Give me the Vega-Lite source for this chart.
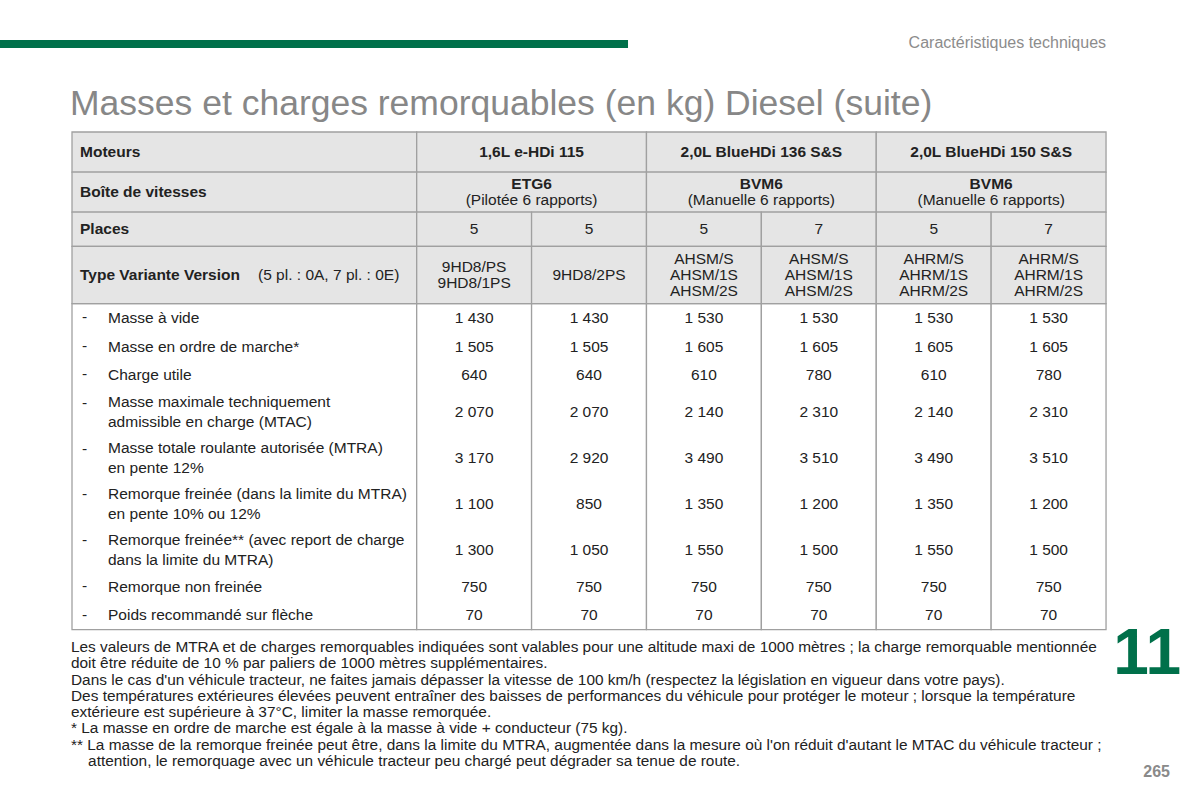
{
  "$schema": "https://vega.github.io/schema/vega-lite/v6.json",
  "width": 1200,
  "height": 800,
  "padding": 0,
  "autosize": {"type": "fit", "contains": "padding"},
  "background": "white",
  "config": {
    "view": {"stroke": null},
    "font": "Liberation Sans",
    "locale": {"number": {"decimal": ",", "thousands": " ", "grouping": [3], "currency": ["", " €"]}}
  },
  "datasets": {
    "hcells": [
      {"id": "a0", "c0": 0, "c1": 3, "r0": 0, "r1": 1.4, "label": "Moteurs"},
      {"id": "a1", "c0": 3, "c1": 5, "r0": 0, "r1": 1.4, "engine": "1,6L e-HDi 115"},
      {"id": "a2", "c0": 5, "c1": 7, "r0": 0, "r1": 1.4, "engine": "2,0L BlueHDi 136 S&S"},
      {"id": "a3", "c0": 7, "c1": 9, "r0": 0, "r1": 1.4, "engine": "2,0L BlueHDi 150 S&S"},
      {"id": "b0", "c0": 0, "c1": 3, "r0": 1.4, "r1": 2.8, "label": "Boîte de vitesses"},
      {"id": "b1", "c0": 3, "c1": 5, "r0": 1.4, "r1": 2.8, "gear": "ETG6", "gearType": "(Pilotée 6 rapports)"},
      {"id": "b2", "c0": 5, "c1": 7, "r0": 1.4, "r1": 2.8, "gear": "BVM6", "gearType": "(Manuelle 6 rapports)"},
      {"id": "b3", "c0": 7, "c1": 9, "r0": 1.4, "r1": 2.8, "gear": "BVM6", "gearType": "(Manuelle 6 rapports)"},
      {"id": "c0", "c0": 0, "c1": 3, "r0": 2.8, "r1": 4, "label": "Places"},
      {"id": "c1", "c0": 3, "c1": 4, "r0": 2.8, "r1": 4, "text": "5"},
      {"id": "c2", "c0": 4, "c1": 5, "r0": 2.8, "r1": 4, "text": "5"},
      {"id": "c3", "c0": 5, "c1": 6, "r0": 2.8, "r1": 4, "text": "5"},
      {"id": "c4", "c0": 6, "c1": 7, "r0": 2.8, "r1": 4, "text": "7"},
      {"id": "c5", "c0": 7, "c1": 8, "r0": 2.8, "r1": 4, "text": "5"},
      {"id": "c6", "c0": 8, "c1": 9, "r0": 2.8, "r1": 4, "text": "7"},
      {"id": "d0", "c0": 0, "c1": 3, "r0": 4, "r1": 6, "label": "Type Variante Version", "note": "(5 pl. : 0A, 7 pl. : 0E)"},
      {"id": "d1", "c0": 3, "c1": 4, "r0": 4, "r1": 6, "text": "9HD8/PS\n9HD8/1PS"},
      {"id": "d2", "c0": 4, "c1": 5, "r0": 4, "r1": 6, "text": "9HD8/2PS"},
      {"id": "d3", "c0": 5, "c1": 6, "r0": 4, "r1": 6, "text": "AHSM/S\nAHSM/1S\nAHSM/2S"},
      {"id": "d4", "c0": 6, "c1": 7, "r0": 4, "r1": 6, "text": "AHSM/S\nAHSM/1S\nAHSM/2S"},
      {"id": "d5", "c0": 7, "c1": 8, "r0": 4, "r1": 6, "text": "AHRM/S\nAHRM/1S\nAHRM/2S"},
      {"id": "d6", "c0": 8, "c1": 9, "r0": 4, "r1": 6, "text": "AHRM/S\nAHRM/1S\nAHRM/2S"}
    ],
    "columns": [
      {"key": "label", "c0": 0, "c1": 3},
      {"key": "v1", "c0": 3, "c1": 4},
      {"key": "v2", "c0": 4, "c1": 5},
      {"key": "v3", "c0": 5, "c1": 6},
      {"key": "v4", "c0": 6, "c1": 7},
      {"key": "v5", "c0": 7, "c1": 8},
      {"key": "v6", "c0": 8, "c1": 9}
    ],
    "rows": [
      {"param": "Masse à vide", "r0": 6, "r1": 7, "v1": 1430, "v2": 1430, "v3": 1530, "v4": 1530, "v5": 1530, "v6": 1530},
      {"param": "Masse en ordre de marche*", "r0": 7, "r1": 8, "v1": 1505, "v2": 1505, "v3": 1605, "v4": 1605, "v5": 1605, "v6": 1605},
      {"param": "Charge utile", "r0": 8, "r1": 9, "v1": 640, "v2": 640, "v3": 610, "v4": 780, "v5": 610, "v6": 780},
      {"param": "Masse maximale techniquement\nadmissible en charge (MTAC)", "r0": 9, "r1": 10.6, "v1": 2070, "v2": 2070, "v3": 2140, "v4": 2310, "v5": 2140, "v6": 2310},
      {"param": "Masse totale roulante autorisée (MTRA)\nen pente 12%", "r0": 10.6, "r1": 12.2, "v1": 3170, "v2": 2920, "v3": 3490, "v4": 3510, "v5": 3490, "v6": 3510},
      {"param": "Remorque freinée (dans la limite du MTRA)\nen pente 10% ou 12%", "r0": 12.2, "r1": 13.8, "v1": 1100, "v2": 850, "v3": 1350, "v4": 1200, "v5": 1350, "v6": 1200},
      {"param": "Remorque freinée** (avec report de charge\ndans la limite du MTRA)", "r0": 13.8, "r1": 15.4, "v1": 1300, "v2": 1050, "v3": 1550, "v4": 1500, "v5": 1550, "v6": 1500},
      {"param": "Remorque non freinée", "r0": 15.4, "r1": 16.4, "v1": 750, "v2": 750, "v3": 750, "v4": 750, "v5": 750, "v6": 750},
      {"param": "Poids recommandé sur flèche", "r0": 16.4, "r1": 17.4, "v1": 70, "v2": 70, "v3": 70, "v4": 70, "v5": 70, "v6": 70}
    ],
    "notes": [
      {"text": "Les valeurs de MTRA et de charges remorquables indiquées sont valables pour une altitude maxi de 1000 mètres ; la charge remorquable mentionnée\ndoit être réduite de 10 % par paliers de 1000 mètres supplémentaires.\nDans le cas d'un véhicule tracteur, ne faites jamais dépasser la vitesse de 100 km/h (respectez la législation en vigueur dans votre pays).\nDes températures extérieures élevées peuvent entraîner des baisses de performances du véhicule pour protéger le moteur ; lorsque la température\nextérieure est supérieure à 37°C, limiter la masse remorquée.\n* La masse en ordre de marche est égale à la masse à vide + conducteur (75 kg).\n** La masse de la remorque freinée peut être, dans la limite du MTRA, augmentée dans la mesure où l'on réduit d'autant le MTAC du véhicule tracteur ;\n\u200b\u00a0\u00a0\u00a0\u00a0attention, le remorquage avec un véhicule tracteur peu chargé peut dégrader sa tenue de route."}
    ]
  },
  "layer": [
    {
      "data": {"values": [{"band": "chapter"}]},
      "mark": {"type": "rect", "color": "#00704a"},
      "encoding": {
        "x": {"datum": -0.6267, "type": "quantitative", "scale": {"domain": [-0.6267, 9.8178], "nice": false, "zero": false}, "axis": null},
        "x2": {"datum": 4.8394},
        "y": {"datum": -3.2168, "type": "quantitative", "scale": {"domain": [-4.6154, 23.3566], "nice": false, "zero": false, "reverse": true}, "axis": null},
        "y2": {"datum": -2.9371}
      }
    },
    {
      "data": {"values": [{"text": "Masses et charges remorquables (en kg) Diesel (suite)"}]},
      "mark": {"type": "text", "align": "left", "baseline": "alphabetic", "fontSize": 35.5, "color": "#878787", "dx": -2},
      "encoding": {
        "x": {"datum": 0, "type": "quantitative", "scale": {"domain": [-0.6267, 9.8178], "nice": false, "zero": false}, "axis": null},
        "y": {"datum": -0.6, "type": "quantitative", "scale": {"domain": [-4.6154, 23.3566], "nice": false, "zero": false, "reverse": true}, "axis": null},
        "text": {"field": "text", "type": "nominal"}
      }
    },
    {
      "data": {"values": [{"text": "Caractéristiques techniques"}]},
      "mark": {"type": "text", "align": "right", "baseline": "middle", "fontSize": 16, "color": "#8c8c8c"},
      "encoding": {
        "x": {"datum": 9, "type": "quantitative", "scale": {"domain": [-0.6267, 9.8178], "nice": false, "zero": false}, "axis": null},
        "y": {"datum": -3.1119, "type": "quantitative", "scale": {"domain": [-4.6154, 23.3566], "nice": false, "zero": false, "reverse": true}, "axis": null},
        "text": {"field": "text", "type": "nominal"}
      }
    },
    {
      "data": {"name": "columns"},
      "mark": {"type": "rect", "fill": "white", "stroke": "#a0a0a0", "strokeWidth": 1.3},
      "encoding": {
        "x": {"field": "c0", "type": "quantitative", "scale": {"domain": [-0.6267, 9.8178], "nice": false, "zero": false}, "axis": null},
        "x2": {"field": "c1"},
        "y": {"datum": 6, "type": "quantitative", "scale": {"domain": [-4.6154, 23.3566], "nice": false, "zero": false, "reverse": true}, "axis": null},
        "y2": {"datum": 17.4}
      }
    },
    {
      "data": {"name": "hcells"},
      "mark": {"type": "rect", "fill": "#e5e5e5", "stroke": "#a0a0a0", "strokeWidth": 1.3},
      "encoding": {
        "x": {"field": "c0", "type": "quantitative", "scale": {"domain": [-0.6267, 9.8178], "nice": false, "zero": false}, "axis": null},
        "x2": {"field": "c1"},
        "y": {"field": "r0", "type": "quantitative", "scale": {"domain": [-4.6154, 23.3566], "nice": false, "zero": false, "reverse": true}, "axis": null},
        "y2": {"field": "r1"}
      }
    },
    {
      "data": {"name": "hcells"},
      "transform": [
        {"filter": "isString(datum.label)"},
        {"fold": ["r0", "r1"], "as": ["rk", "rv"]}
      ],
      "mark": {"type": "text", "align": "left", "baseline": "middle", "fontSize": 15.5, "fontWeight": "bold", "color": "#222", "dx": 8},
      "encoding": {
        "x": {"datum": 0, "type": "quantitative", "scale": {"domain": [-0.6267, 9.8178], "nice": false, "zero": false}, "axis": null},
        "y": {"aggregate": "mean", "field": "rv", "type": "quantitative", "scale": {"domain": [-4.6154, 23.3566], "nice": false, "zero": false, "reverse": true}, "axis": null},
        "text": {"field": "label", "type": "nominal"},
        "detail": {"field": "id", "type": "nominal"}
      }
    },
    {
      "data": {"name": "hcells"},
      "transform": [
        {"filter": "isString(datum.note)"},
        {"fold": ["r0", "r1"], "as": ["rk", "rv"]}
      ],
      "mark": {"type": "text", "align": "left", "baseline": "middle", "fontSize": 15.5, "color": "#222", "dx": 186},
      "encoding": {
        "x": {"datum": 0, "type": "quantitative", "scale": {"domain": [-0.6267, 9.8178], "nice": false, "zero": false}, "axis": null},
        "y": {"aggregate": "mean", "field": "rv", "type": "quantitative", "scale": {"domain": [-4.6154, 23.3566], "nice": false, "zero": false, "reverse": true}, "axis": null},
        "text": {"field": "note", "type": "nominal"},
        "detail": {"field": "id", "type": "nominal"}
      }
    },
    {
      "data": {"name": "hcells"},
      "transform": [
        {"filter": "isString(datum.engine)"},
        {"fold": ["r0", "r1"], "as": ["rk", "rv"]},
        {"fold": ["c0", "c1"], "as": ["ck", "cv"]}
      ],
      "mark": {"type": "text", "align": "center", "baseline": "middle", "fontSize": 15.5, "fontWeight": "bold", "color": "#222"},
      "encoding": {
        "x": {"aggregate": "mean", "field": "cv", "type": "quantitative", "scale": {"domain": [-0.6267, 9.8178], "nice": false, "zero": false}, "axis": null},
        "y": {"aggregate": "mean", "field": "rv", "type": "quantitative", "scale": {"domain": [-4.6154, 23.3566], "nice": false, "zero": false, "reverse": true}, "axis": null},
        "text": {"field": "engine", "type": "nominal"},
        "detail": {"field": "id", "type": "nominal"}
      }
    },
    {
      "data": {"name": "hcells"},
      "transform": [
        {"filter": "isString(datum.gear)"},
        {"fold": ["r0", "r1"], "as": ["rk", "rv"]},
        {"fold": ["c0", "c1"], "as": ["ck", "cv"]}
      ],
      "mark": {"type": "text", "align": "center", "baseline": "middle", "fontSize": 15.5, "fontWeight": "bold", "color": "#222", "dy": -8},
      "encoding": {
        "x": {"aggregate": "mean", "field": "cv", "type": "quantitative", "scale": {"domain": [-0.6267, 9.8178], "nice": false, "zero": false}, "axis": null},
        "y": {"aggregate": "mean", "field": "rv", "type": "quantitative", "scale": {"domain": [-4.6154, 23.3566], "nice": false, "zero": false, "reverse": true}, "axis": null},
        "text": {"field": "gear", "type": "nominal"},
        "detail": {"field": "id", "type": "nominal"}
      }
    },
    {
      "data": {"name": "hcells"},
      "transform": [
        {"filter": "isString(datum.gearType)"},
        {"fold": ["r0", "r1"], "as": ["rk", "rv"]},
        {"fold": ["c0", "c1"], "as": ["ck", "cv"]}
      ],
      "mark": {"type": "text", "align": "center", "baseline": "middle", "fontSize": 15.5, "color": "#222", "dy": 8},
      "encoding": {
        "x": {"aggregate": "mean", "field": "cv", "type": "quantitative", "scale": {"domain": [-0.6267, 9.8178], "nice": false, "zero": false}, "axis": null},
        "y": {"aggregate": "mean", "field": "rv", "type": "quantitative", "scale": {"domain": [-4.6154, 23.3566], "nice": false, "zero": false, "reverse": true}, "axis": null},
        "text": {"field": "gearType", "type": "nominal"},
        "detail": {"field": "id", "type": "nominal"}
      }
    },
    {
      "data": {"name": "hcells"},
      "transform": [
        {"filter": "isString(datum.text) && indexof(datum.text, '\\n') < 0"},
        {"fold": ["r0", "r1"], "as": ["rk", "rv"]},
        {"fold": ["c0", "c1"], "as": ["ck", "cv"]}
      ],
      "mark": {"type": "text", "align": "center", "baseline": "middle", "fontSize": 15.5, "color": "#222"},
      "encoding": {
        "x": {"aggregate": "mean", "field": "cv", "type": "quantitative", "scale": {"domain": [-0.6267, 9.8178], "nice": false, "zero": false}, "axis": null},
        "y": {"aggregate": "mean", "field": "rv", "type": "quantitative", "scale": {"domain": [-4.6154, 23.3566], "nice": false, "zero": false, "reverse": true}, "axis": null},
        "text": {"field": "text", "type": "nominal"},
        "detail": {"field": "id", "type": "nominal"}
      }
    },
    {
      "data": {"name": "hcells"},
      "transform": [
        {"filter": "isString(datum.text) && indexof(datum.text, '\\n') >= 0 && indexof(datum.text, '\\n') == lastindexof(datum.text, '\\n')"},
        {"fold": ["r0", "r1"], "as": ["rk", "rv"]},
        {"fold": ["c0", "c1"], "as": ["ck", "cv"]}
      ],
      "mark": {"type": "text", "align": "center", "baseline": "middle", "fontSize": 15.5, "color": "#222", "lineBreak": "\n", "lineHeight": 16, "dy": -8},
      "encoding": {
        "x": {"aggregate": "mean", "field": "cv", "type": "quantitative", "scale": {"domain": [-0.6267, 9.8178], "nice": false, "zero": false}, "axis": null},
        "y": {"aggregate": "mean", "field": "rv", "type": "quantitative", "scale": {"domain": [-4.6154, 23.3566], "nice": false, "zero": false, "reverse": true}, "axis": null},
        "text": {"field": "text", "type": "nominal"},
        "detail": {"field": "id", "type": "nominal"}
      }
    },
    {
      "data": {"name": "hcells"},
      "transform": [
        {"filter": "isString(datum.text) && indexof(datum.text, '\\n') >= 0 && indexof(datum.text, '\\n') != lastindexof(datum.text, '\\n')"},
        {"fold": ["r0", "r1"], "as": ["rk", "rv"]},
        {"fold": ["c0", "c1"], "as": ["ck", "cv"]}
      ],
      "mark": {"type": "text", "align": "center", "baseline": "middle", "fontSize": 15.5, "color": "#222", "lineBreak": "\n", "lineHeight": 16, "dy": -16},
      "encoding": {
        "x": {"aggregate": "mean", "field": "cv", "type": "quantitative", "scale": {"domain": [-0.6267, 9.8178], "nice": false, "zero": false}, "axis": null},
        "y": {"aggregate": "mean", "field": "rv", "type": "quantitative", "scale": {"domain": [-4.6154, 23.3566], "nice": false, "zero": false, "reverse": true}, "axis": null},
        "text": {"field": "text", "type": "nominal"},
        "detail": {"field": "id", "type": "nominal"}
      }
    },
    {
      "data": {"name": "rows"},
      "mark": {"type": "text", "align": "left", "baseline": "middle", "fontSize": 15.5, "color": "#222", "dx": 10, "dy": 13.5},
      "encoding": {
        "x": {"datum": 0, "type": "quantitative", "scale": {"domain": [-0.6267, 9.8178], "nice": false, "zero": false}, "axis": null},
        "y": {"field": "r0", "type": "quantitative", "scale": {"domain": [-4.6154, 23.3566], "nice": false, "zero": false, "reverse": true}, "axis": null},
        "text": {"value": "-"}
      }
    },
    {
      "data": {"name": "rows"},
      "transform": [
        {"filter": "indexof(datum.param, '\\n') < 0"},
        {"fold": ["r0", "r1"], "as": ["rk", "rv"]}
      ],
      "mark": {"type": "text", "align": "left", "baseline": "middle", "fontSize": 15.5, "color": "#222", "dx": 36},
      "encoding": {
        "x": {"datum": 0, "type": "quantitative", "scale": {"domain": [-0.6267, 9.8178], "nice": false, "zero": false}, "axis": null},
        "y": {"aggregate": "mean", "field": "rv", "type": "quantitative", "scale": {"domain": [-4.6154, 23.3566], "nice": false, "zero": false, "reverse": true}, "axis": null},
        "text": {"field": "param", "type": "nominal"}
      }
    },
    {
      "data": {"name": "rows"},
      "transform": [
        {"filter": "indexof(datum.param, '\\n') >= 0"},
        {"fold": ["r0", "r1"], "as": ["rk", "rv"]}
      ],
      "mark": {"type": "text", "align": "left", "baseline": "middle", "fontSize": 15.5, "color": "#222", "dx": 36, "lineBreak": "\n", "lineHeight": 20, "dy": -10},
      "encoding": {
        "x": {"datum": 0, "type": "quantitative", "scale": {"domain": [-0.6267, 9.8178], "nice": false, "zero": false}, "axis": null},
        "y": {"aggregate": "mean", "field": "rv", "type": "quantitative", "scale": {"domain": [-4.6154, 23.3566], "nice": false, "zero": false, "reverse": true}, "axis": null},
        "text": {"field": "param", "type": "nominal"}
      }
    },
    {
      "data": {"name": "rows"},
      "transform": [
        {"fold": ["v1", "v2", "v3", "v4", "v5", "v6"], "as": ["key", "val"]},
        {"lookup": "key", "from": {"data": {"name": "columns"}, "key": "key", "fields": ["c0", "c1"]}},
        {"fold": ["r0", "r1"], "as": ["rk", "rv"]},
        {"fold": ["c0", "c1"], "as": ["ck", "cv"]}
      ],
      "mark": {"type": "text", "align": "center", "baseline": "middle", "fontSize": 15.5, "color": "#222"},
      "encoding": {
        "x": {"aggregate": "mean", "field": "cv", "type": "quantitative", "scale": {"domain": [-0.6267, 9.8178], "nice": false, "zero": false}, "axis": null},
        "y": {"aggregate": "mean", "field": "rv", "type": "quantitative", "scale": {"domain": [-4.6154, 23.3566], "nice": false, "zero": false, "reverse": true}, "axis": null},
        "text": {"field": "val", "type": "quantitative", "format": ",d"},
        "detail": [{"field": "param", "type": "nominal"}, {"field": "key", "type": "nominal"}]
      }
    },
    {
      "data": {"name": "notes"},
      "mark": {"type": "text", "align": "left", "baseline": "alphabetic", "fontSize": 15.4, "color": "#222", "lineBreak": "\n", "lineHeight": 16.3, "dx": -1},
      "encoding": {
        "x": {"datum": 0, "type": "quantitative", "scale": {"domain": [-0.6267, 9.8178], "nice": false, "zero": false}, "axis": null},
        "y": {"datum": 18.18, "type": "quantitative", "scale": {"domain": [-4.6154, 23.3566], "nice": false, "zero": false, "reverse": true}, "axis": null},
        "text": {"field": "text", "type": "nominal"}
      }
    },
    {
      "data": {"values": [{"text": "11"}]},
      "mark": {"type": "text", "align": "right", "baseline": "alphabetic", "fontSize": 64, "fontWeight": "bold", "color": "#00704a"},
      "encoding": {
        "x": {"datum": 9.6526, "type": "quantitative", "scale": {"domain": [-0.6267, 9.8178], "nice": false, "zero": false}, "axis": null},
        "y": {"datum": 18.95, "type": "quantitative", "scale": {"domain": [-4.6154, 23.3566], "nice": false, "zero": false, "reverse": true}, "axis": null},
        "text": {"field": "text", "type": "nominal"}
      }
    },
    {
      "data": {"values": [{"text": "265"}]},
      "mark": {"type": "text", "align": "right", "baseline": "alphabetic", "fontSize": 16, "fontWeight": "bold", "color": "#8a8a8a"},
      "encoding": {
        "x": {"datum": 9.5569, "type": "quantitative", "scale": {"domain": [-0.6267, 9.8178], "nice": false, "zero": false}, "axis": null},
        "y": {"datum": 22.552, "type": "quantitative", "scale": {"domain": [-4.6154, 23.3566], "nice": false, "zero": false, "reverse": true}, "axis": null},
        "text": {"field": "text", "type": "nominal"}
      }
    }
  ]
}
